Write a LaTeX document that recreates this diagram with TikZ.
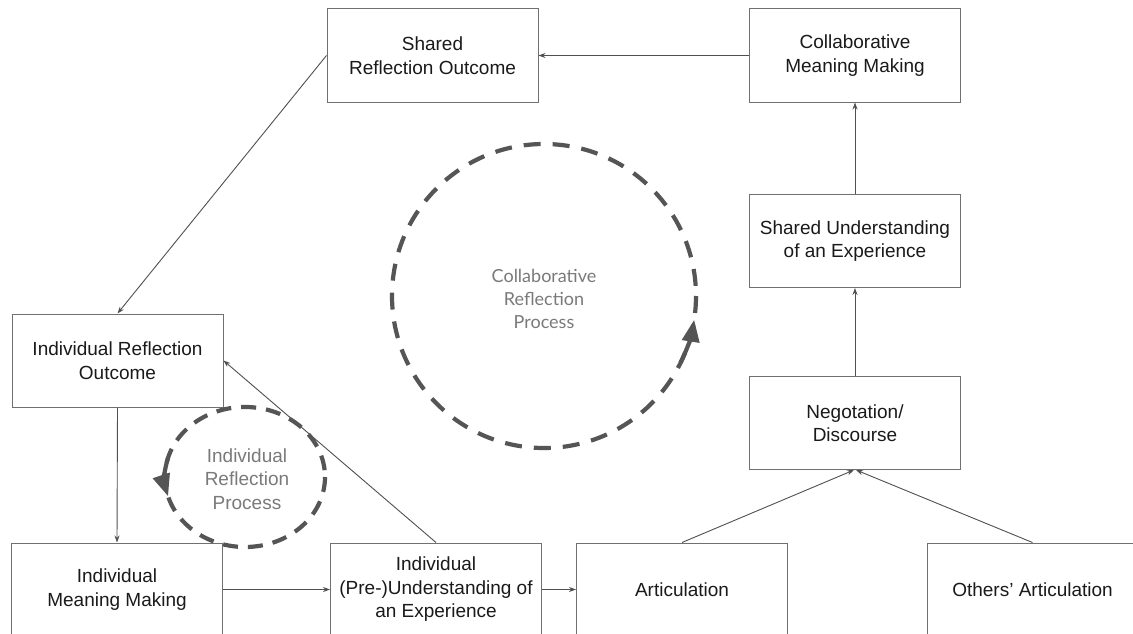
\documentclass[tikz,border=0pt]{standalone}
\usepackage{fontspec}
\setmainfont{Liberation Sans}
\newfontfamily\humanist{Lato}
\usetikzlibrary{arrows.meta}
\definecolor{boxline}{HTML}{707070}
\definecolor{conline}{HTML}{505050}
\definecolor{dashcol}{HTML}{555555}
\definecolor{txt}{HTML}{1A1A1A}
\definecolor{lbl}{HTML}{7A7A7A}
\tikzset{
  box/.style={draw=boxline, line width=1pt, minimum width=211pt, minimum height=93pt,
    inner sep=0pt, align=center, text=txt, font=\fontsize{19}{23.5}\selectfont},
  conn/.style={draw=conline, line width=0.9pt, -{Stealth[length=7pt,width=5pt]}},
  loopline/.style={draw=dashcol, line width=4.2pt, dash pattern=on 17pt off 12pt},
  looptip/.style={draw=dashcol, line width=4.2pt, -{Triangle[length=22pt,width=17pt]}},
  proclabel/.style={align=center, text=lbl, font=\fontsize{19}{23.5}\selectfont}
}
\begin{document}
\begin{tikzpicture}[x=1pt,y=-1pt]
\useasboundingbox (0,0) rectangle (1133,634);
\clip (0,0) rectangle (1133,634);
\fill[white] (0,0) rectangle (1133,634);

% boxes
\node[box] (SRO) at (432.5,55.5) {Shared\\Reflection Outcome};
\node[box] (CMM) at (855,55.5) {Collaborative\\Meaning Making};
\node[box] (SU) at (855,241) {Shared Understanding\\of an Experience};
\node[box] (NEG) at (855,423) {Negotation/\\Discourse};
\node[box] (IRO) at (117.5,360.5) {Individual Reflection\\Outcome};
\node[box] (IMM) at (117,589.5) {Individual\\Meaning Making};
\node[box] (IPU) at (436,589.5) {Individual\\(Pre-)Understanding of\\an Experience};
\node[box] (ART) at (682,589.5) {Articulation};
\node[box] (OA) at (1032.5,589.5) {Others' Articulation};

% connectors
\draw[conn] (CMM.west) -- (SRO.east);
\draw[conn] (SU.north) -- (CMM.south);
\draw[conn] (NEG.north) -- (SU.south);
\draw[conn] (ART.north) -- ([xshift=-1pt]NEG.south);
\draw[conn] (OA.north) -- ([xshift=1pt]NEG.south);
\draw[conn] (SRO.west) -- (IRO.north);
\draw[conn] (IRO.south) -- (IMM.north);
\draw[conn] (IMM.east) -- (IPU.west);
\draw[conn] (IPU.north) -- (IRO.east);
\draw[conn] (IPU.east) -- (ART.west);

% dashed process loops
\draw[loopline] (544,296) circle (152);
\draw[looptip] (544,296) ++(26:152) arc[start angle=26, end angle=9, radius=152];
\node[proclabel, font=\humanist\fontsize{18}{23}\selectfont] (collab) at (544,299) {Collaborative\\Reflection\\Process};

\draw[loopline, dash pattern=on 15pt off 10pt] (245,477) ellipse [x radius=80, y radius=70];
\draw[looptip] (245,477) ++(196:80 and 70) arc[start angle=196, end angle=164, x radius=80, y radius=70];
\node[proclabel] (indiv) at (247,479) {Individual\\Reflection\\Process};
\end{tikzpicture}
\end{document}
